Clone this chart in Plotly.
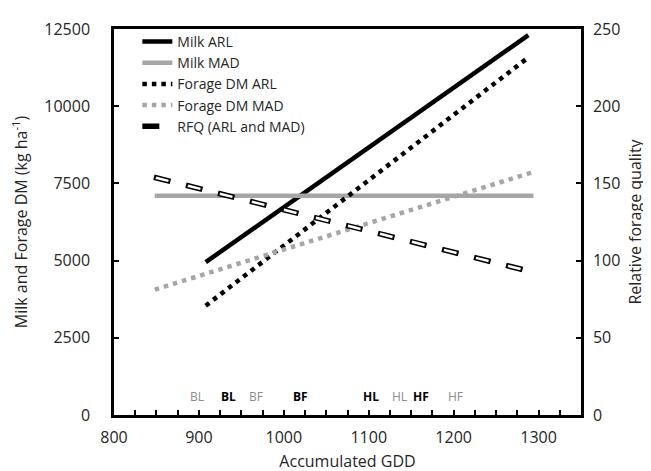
import plotly.graph_objects as go

# ---- data ----
gdd_arl = [908, 1288]
milk_arl = [4950, 12300]
forage_arl = [3540, 11580]

gdd_mad = [848, 1294]
milk_mad = [7100, 7100]
forage_mad = [4060, 7870]

gdd_rfq = [847, 1290]
rfq = [154, 93]

stage_labels = ["BL", "BL", "BF", "BF", "HL", "HL", "HF", "HF"]
stage_gdd = [898, 935, 967, 1020, 1103, 1136, 1161, 1202]
stage_site = ["MAD", "ARL", "MAD", "ARL", "ARL", "MAD", "ARL", "MAD"]
stage_y = 600

FONT = "Open Sans"
BLACK = "#000000"
GRAY = "#A6A6A6"
TEXT = "#262626"

fig = go.Figure()

fig.add_trace(go.Scatter(x=gdd_arl, y=milk_arl, mode="lines", name="Milk ARL",
                         line=dict(color=BLACK, width=4.5)))
fig.add_trace(go.Scatter(x=gdd_mad, y=milk_mad, mode="lines", name="Milk MAD",
                         line=dict(color=GRAY, width=4.5)))
fig.add_trace(go.Scatter(x=gdd_arl, y=forage_arl, mode="lines", name="Forage DM ARL",
                         line=dict(color=BLACK, width=4.5, dash="4.5px,5px")))
fig.add_trace(go.Scatter(x=gdd_mad, y=forage_mad, mode="lines", name="Forage DM MAD",
                         line=dict(color=GRAY, width=4.5, dash="4.5px,5px")))
fig.add_trace(go.Scatter(x=gdd_rfq, y=rfq, mode="lines", name="RFQ (ARL and MAD)",
                         yaxis="y2", legendgroup="rfq",
                         line=dict(color=BLACK, width=5.5, dash="17px,16px")))
fig.add_trace(go.Scatter(x=gdd_rfq, y=rfq, mode="lines", name="RFQ (ARL and MAD)",
                         yaxis="y2", legendgroup="rfq", showlegend=False, hoverinfo="skip",
                         line=dict(color="white", width=2.5, dash="0px,2px,13px,18px")))

for lab, gx, site in zip(stage_labels, stage_gdd, stage_site):
    if site == "ARL":
        txt, col = f"<b>{lab}</b>", "#000000"
    else:
        txt, col = lab, "#8C8C8C"
    fig.add_annotation(x=gx, y=stage_y, xref="x", yref="y", text=txt, showarrow=False,
                       font=dict(family=FONT, size=12, color=col))

axis_common = dict(showline=True, linecolor=BLACK, linewidth=2.5, ticks="inside",
                   tickcolor=BLACK, tickwidth=2, ticklen=5, showgrid=False, zeroline=False,
                   tickformat="d", automargin=False,
                   tickfont=dict(family=FONT, size=16, color=TEXT))

fig.update_layout(
    width=651, height=471,
    margin=dict(l=106, r=78, t=21, b=64),
    paper_bgcolor="white", plot_bgcolor="white",
    font=dict(family=FONT, color=TEXT),
    xaxis=dict(range=[800, 1350], dtick=100, mirror=True,
               minor=dict(dtick=25, ticks="inside", ticklen=5, tickwidth=2, tickcolor=BLACK),
               title=dict(text="Accumulated GDD", font=dict(family=FONT, size=16, color=TEXT),
                          standoff=9),
               ticklabelstandoff=6,
               **axis_common),
    yaxis=dict(range=[0, 12500], dtick=2500,
               title=dict(text="Milk and Forage DM (kg ha<sup>-1</sup>)",
                          font=dict(family=FONT, size=16, color=TEXT), standoff=14),
               ticklabelstandoff=18,
               **axis_common),
    yaxis2=dict(range=[0, 250], dtick=50, overlaying="y", side="right",
                title=dict(text="Relative forage quality",
                           font=dict(family=FONT, size=16, color=TEXT), standoff=11),
                ticklabelstandoff=6,
                **axis_common),
    legend=dict(x=0.05, y=1.008, xanchor="left", yanchor="top",
                bgcolor="rgba(0,0,0,0)", borderwidth=0, tracegroupgap=0,
                font=dict(family=FONT, size=14, color=TEXT)),
    showlegend=True,
)

fig.write_html("out.html")
